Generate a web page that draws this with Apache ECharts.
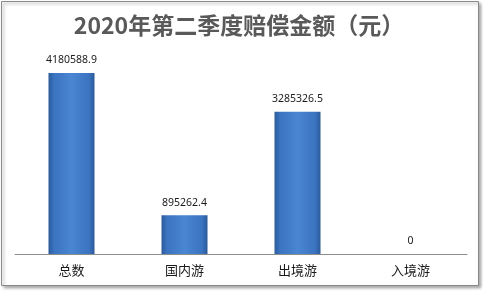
<!DOCTYPE html>
<html><head><meta charset="utf-8">
<script src="https://cdn.jsdelivr.net/npm/echarts@6/dist/echarts.min.js"></script>
<style>html,body{margin:0;padding:0;background:#fff}#c{width:483px;height:291px}</style>
</head><body><div id="c"></div>
<script>
const titleText = '2020年第二季度赔偿金额（元）';
const categories = ['总数', '国内游', '出境游', '入境游'];
const values = [4180588.9, 895262.4, 3285326.5, 0];
const labels = ['4180588.9', '895262.4', '3285326.5', '0'];

const chart = echarts.init(document.getElementById('c'), null, {renderer: 'canvas'});
chart.setOption({
  animation: false,
  backgroundColor: '#fff',
  graphic: [{
    type: 'rect', z: -1,
    shape: {x: 1.5, y: 1.5, width: 477, height: 284},
    style: {fill: '#fff', stroke: '#8a8a8a', lineWidth: 1,
      shadowColor: 'rgba(0,0,0,0.35)', shadowBlur: 3, shadowOffsetX: 2, shadowOffsetY: 2}
  }],
  title: {
    text: titleText, left: 234, top: 9, textAlign: 'center',
    textStyle: {fontFamily: 'Noto Sans CJK SC', fontWeight: 'bold', fontSize: 23, color: '#595959'}
  },
  grid: {left: 15, right: 16, top: 37.5, bottom: 37, containLabel: false},
  xAxis: {
    type: 'category', data: categories,
    axisLine: {lineStyle: {color: '#8c8c8c', width: 1}},
    axisTick: {show: false},
    axisLabel: {fontFamily: 'Noto Sans CJK SC', fontSize: 13, color: '#1a1a1a', margin: 10}
  },
  yAxis: {type: 'value', min: 0, max: 5000000, show: false, splitLine: {show: false}},
  series: [{
    type: 'bar', data: values, barWidth: 46,
    itemStyle: {
      color: new echarts.graphic.LinearGradient(0, 0, 1, 0, [
        {offset: 0, color: '#2b5a9a'},
        {offset: 0.12, color: '#3b74c0'},
        {offset: 0.5, color: '#4a86d3'},
        {offset: 0.88, color: '#3b74c0'},
        {offset: 1, color: '#2b5a9a'}
      ]),
      borderColor: '#3a6db3', borderWidth: 0
    },
    label: {
      show: true, position: 'top', distance: 7,
      formatter: p => labels[p.dataIndex],
      fontFamily: 'Noto Sans', fontSize: 10.5, color: '#1a1a1a'
    }
  }]
});
</script></body></html>
